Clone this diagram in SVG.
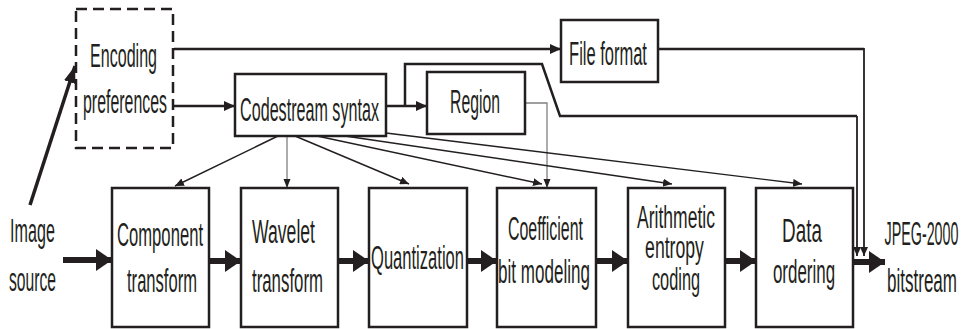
<svg xmlns="http://www.w3.org/2000/svg" width="967" height="329" viewBox="0 0 967 329">
<style>
  .box { fill: #fff; stroke: #231f20; stroke-width: 2.5; }
  .dash { fill: #fff; stroke: #231f20; stroke-width: 2.5; stroke-dasharray: 11 6; }
  text { font-family: "Liberation Sans Narrow", "Liberation Sans", Arial, sans-serif; font-size: 34px; fill: #231f20; text-anchor: middle; }
  .tight { font-size: 31px; }
  .thick { stroke: #231f20; stroke-width: 6; fill: none; }
  .med { stroke: #231f20; stroke-width: 2.5; fill: none; }
  .thin { stroke: #231f20; stroke-width: 1.4; fill: none; }
  .gray { stroke: #808080; stroke-width: 1.3; fill: none; }
</style>
<defs>
  <marker id="small" markerUnits="userSpaceOnUse" markerWidth="10" markerHeight="8" refX="9" refY="4" orient="auto">
    <path d="M0,0 L9,4 L0,8 z" fill="#231f20"/>
  </marker>
  <marker id="smallg" markerUnits="userSpaceOnUse" markerWidth="10" markerHeight="8" refX="9" refY="4" orient="auto">
    <path d="M0,0.5 L9,4 L0,7.5 z" fill="#231f20"/>
  </marker>
  <marker id="med" markerUnits="userSpaceOnUse" markerWidth="12" markerHeight="10" refX="11" refY="5" orient="auto">
    <path d="M0,0 L11,5 L0,10 z" fill="#231f20"/>
  </marker>
  <marker id="diag" markerUnits="userSpaceOnUse" markerWidth="18" markerHeight="12" refX="17" refY="6" orient="auto">
    <path d="M0,0 L17,6 L0,12 z" fill="#231f20"/>
  </marker>
  <marker id="big" markerUnits="userSpaceOnUse" markerWidth="17" markerHeight="22" refX="16" refY="11" orient="auto">
    <path d="M0,0 L16,11 L0,22 z" fill="#231f20"/>
  </marker>
</defs>

<g id="connectors">
  <line class="med" x1="30" y1="205" x2="75" y2="66" style="stroke-width:3.5" marker-end="url(#diag)"/>
  <line class="med" x1="174" y1="49" x2="561" y2="49" marker-end="url(#med)"/>
  <line class="med" x1="174" y1="106" x2="235" y2="106" marker-end="url(#med)"/>
  <line class="med" x1="386" y1="106" x2="427" y2="106" marker-end="url(#med)"/>
  <polyline class="med" points="405,106 405,64 542,64 560,116 857,116"/>
  <line class="thin" x1="857" y1="116" x2="857" y2="256" style="stroke-width:1.8" marker-end="url(#small)"/>
  <polyline class="med" points="658,49 864,49"/>
  <line class="thin" x1="864" y1="48" x2="864" y2="256" style="stroke-width:1.8" marker-end="url(#small)"/>
  <polyline class="gray" points="525,103 547,103 547,188" marker-end="url(#smallg)"/>
  <line class="thin" x1="278" y1="136" x2="175" y2="186" marker-end="url(#small)"/>
  <line class="gray" x1="287" y1="136" x2="287" y2="188" marker-end="url(#smallg)"/>
  <line class="thin" x1="295" y1="136" x2="409" y2="184" marker-end="url(#small)"/>
  <line class="thin" x1="317" y1="136" x2="542" y2="184" marker-end="url(#small)"/>
  <line class="thin" x1="345" y1="136" x2="672" y2="184" marker-end="url(#small)"/>
  <line class="thin" x1="386" y1="133" x2="802" y2="184" marker-end="url(#small)"/>
  <line class="thick" x1="63" y1="260" x2="112" y2="260" marker-end="url(#big)"/>
  <line class="thick" x1="209" y1="261" x2="241" y2="261" marker-end="url(#big)"/>
  <line class="thick" x1="338" y1="261" x2="369" y2="261" marker-end="url(#big)"/>
  <line class="thick" x1="467" y1="261" x2="497" y2="261" marker-end="url(#big)"/>
  <line class="thick" x1="596" y1="261" x2="628" y2="261" marker-end="url(#big)"/>
  <line class="thick" x1="725" y1="261" x2="756" y2="261" marker-end="url(#big)"/>
  <line class="thick" x1="853" y1="262" x2="885" y2="262" marker-end="url(#big)"/>
</g>

<g id="encoding-preferences">
  <rect class="dash" x="76" y="9" width="97" height="139"/>
  <text transform="translate(123.5,67) scale(0.56,1)" textLength="119.6" lengthAdjust="spacingAndGlyphs">Encoding</text>
  <text transform="translate(125,113) scale(0.56,1)" textLength="150" lengthAdjust="spacingAndGlyphs">preferences</text>
</g>
<g id="codestream-syntax">
  <rect class="box" x="235" y="74" width="151" height="62"/>
  <text transform="translate(309.5,121) scale(0.56,1)" textLength="248" lengthAdjust="spacingAndGlyphs">Codestream syntax</text>
</g>
<g id="region">
  <rect class="box" x="427" y="72" width="98" height="62"/>
  <text transform="translate(475,113) scale(0.56,1)" textLength="89" lengthAdjust="spacingAndGlyphs">Region</text>
</g>
<g id="file-format">
  <rect class="box" x="561" y="20" width="97" height="62"/>
  <text transform="translate(608,65) scale(0.56,1)" textLength="139" lengthAdjust="spacingAndGlyphs">File format</text>
</g>
<g id="image-source">
  <text transform="translate(32.5,242) scale(0.56,1)" textLength="80" lengthAdjust="spacingAndGlyphs">Image</text>
  <text transform="translate(32.5,291) scale(0.56,1)" textLength="84" lengthAdjust="spacingAndGlyphs">source</text>
</g>
<g id="component-transform">
  <rect class="box" x="112" y="188" width="97" height="139"/>
  <text transform="translate(160,246) scale(0.56,1)" textLength="153.6" lengthAdjust="spacingAndGlyphs">Component</text>
  <text transform="translate(162,292) scale(0.56,1)" textLength="125" lengthAdjust="spacingAndGlyphs">transform</text>
</g>
<g id="wavelet-transform">
  <rect class="box" x="241" y="188" width="97" height="139"/>
  <text transform="translate(283.5,243) scale(0.56,1)" textLength="112.5" lengthAdjust="spacingAndGlyphs">Wavelet</text>
  <text transform="translate(287.5,292) scale(0.56,1)" textLength="126.8" lengthAdjust="spacingAndGlyphs">transform</text>
</g>
<g id="quantization">
  <rect class="box" x="369" y="188" width="98" height="139"/>
  <text transform="translate(417.5,269) scale(0.56,1)" textLength="166" lengthAdjust="spacingAndGlyphs">Quantization</text>
</g>
<g id="coefficient-bit-modeling">
  <rect class="box" x="497" y="188" width="99" height="139"/>
  <text transform="translate(545.5,240) scale(0.56,1)" textLength="134" lengthAdjust="spacingAndGlyphs">Coefficient</text>
  <text transform="translate(544,283) scale(0.56,1)" textLength="164" lengthAdjust="spacingAndGlyphs">bit modeling</text>
</g>
<g id="arithmetic-entropy-coding">
  <rect class="box" x="628" y="188" width="97" height="139"/>
  <text class="tight" transform="translate(676,228) scale(0.56,1)" textLength="139" lengthAdjust="spacingAndGlyphs">Arithmetic</text>
  <text class="tight" transform="translate(674.5,258) scale(0.56,1)" textLength="105" lengthAdjust="spacingAndGlyphs">entropy</text>
  <text class="tight" transform="translate(676,290) scale(0.56,1)" textLength="86" lengthAdjust="spacingAndGlyphs">coding</text>
</g>
<g id="data-ordering">
  <rect class="box" x="756" y="188" width="97" height="139"/>
  <text transform="translate(802,242) scale(0.56,1)" textLength="71" lengthAdjust="spacingAndGlyphs">Data</text>
  <text transform="translate(804,283) scale(0.56,1)" textLength="111" lengthAdjust="spacingAndGlyphs">ordering</text>
</g>
<g id="jpeg-2000-bitstream">
  <text transform="translate(921.5,245) scale(0.56,1)" textLength="132" lengthAdjust="spacingAndGlyphs">JPEG-2000</text>
  <text transform="translate(922,292) scale(0.56,1)" textLength="125" lengthAdjust="spacingAndGlyphs">bitstream</text>
</g>
</svg>
